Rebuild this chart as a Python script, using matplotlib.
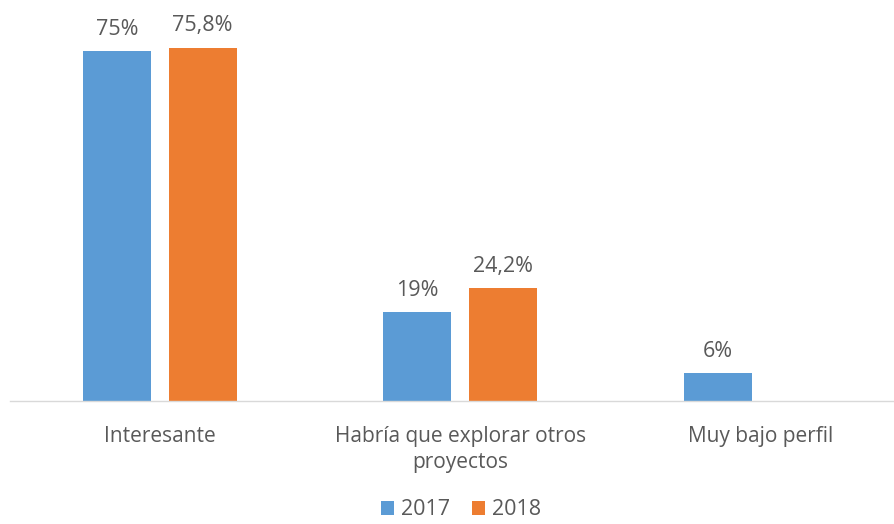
import matplotlib
matplotlib.use("Agg")
import matplotlib.pyplot as plt
import numpy as np

categories = ["Interesante", "Habría que explorar otros\nproyectos", "Muy bajo perfil"]
series_names = ["2017", "2018"]
values_2017 = [75, 19, 6]
values_2018 = [75.8, 24.2, None]
labels_2017 = ["75%", "19%", "6%"]
labels_2018 = ["75,8%", "24,2%", None]

colors = ["#5B9BD5", "#ED7D31"]
text_color = "#595959"

plt.rcParams['font.family'] = ['Open Sans', 'DejaVu Sans']

fig = plt.figure(figsize=(8.95, 5.24), dpi=100)
ax = fig.add_axes([9.5/895, 1-401/524, 901.5/895, (401-28)/524])

x = np.arange(len(categories))
w = 0.227
off = 0.143
for vals, labs, col, sign, name in [(values_2017, labels_2017, colors[0], -1, series_names[0]),
                                    (values_2018, labels_2018, colors[1], 1, series_names[1])]:
    xs = [xi + sign*off for xi, v in zip(x, vals) if v is not None]
    vs = [v for v in vals if v is not None]
    ls = [l for l in labs if l is not None]
    bars = ax.bar(xs, vs, width=w, color=col, label=name)
    for b, l in zip(bars, ls):
        ax.text(b.get_x()+b.get_width()/2, b.get_height()+2.4, l, ha='center', va='bottom',
                fontsize=15.5, color=text_color)

ax.set_xlim(-0.5, 2.5)
ax.set_ylim(0, 80)
ax.set_xticks(x)
ax.set_xticklabels(categories, fontsize=15, color=text_color, linespacing=1.3)
ax.tick_params(axis='x', length=0, pad=18)
ax.set_yticks([])
for s in ['top', 'right', 'left']:
    ax.spines[s].set_visible(False)
ax.spines['bottom'].set_color('#D9D9D9')
ax.spines['bottom'].set_linewidth(1)

leg = fig.legend(loc='lower center', bbox_to_anchor=(0.515, -0.022), ncol=2, frameon=False,
                 fontsize=15.5, handlelength=0.6, handleheight=0.6, handletextpad=0.35,
                 columnspacing=1.0, borderpad=0.2)
for t in leg.get_texts():
    t.set_color(text_color)

fig.savefig("out.png", dpi=100)
